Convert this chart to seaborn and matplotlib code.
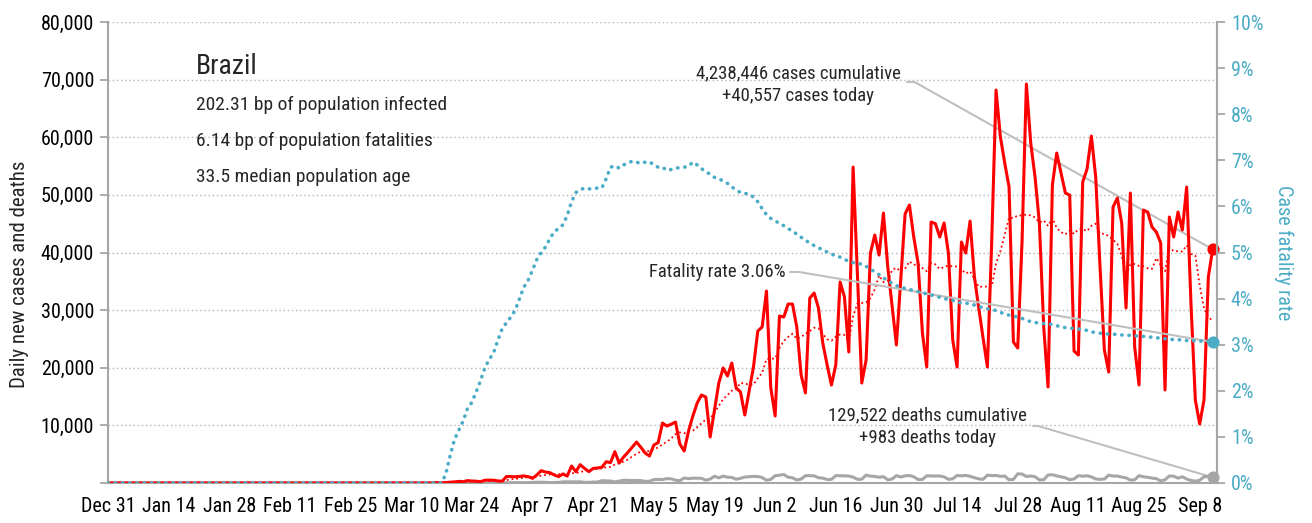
import pandas as pd
import seaborn as sns
import matplotlib.pyplot as plt
import matplotlib.font_manager as fm
from matplotlib.dates import DateFormatter

# ---- data (Brazil) ----
first_day = "2019-12-31"

cases_start = "2020-03-12"
daily_cases = [
    1, 0, 13, 0, 65, 34, 57, 137, 193, 283, 224, 418, 345, 310, 232, 482, 502, 487, 352, 323,
    1138, 1119, 1074, 1146, 1222, 1100, 810, 1400, 2140, 1900,
    1790, 1400, 1100, 1560, 1210, 2950, 1970, 3180, 2540, 1970,
    2540, 2600, 2720, 3700, 3530, 5440, 3470, 4500, 5300, 6200,
    7110, 6200, 5200, 4690, 6600, 7000, 10410, 9890, 10200, 10580,
    6770, 5550, 9000, 11600, 13880, 15270, 14920, 7980, 12700, 17350,
    19950, 18570, 20820, 16480, 15800, 11800, 16000, 20130, 26380, 27070,
    33320, 16480, 11630, 28980, 28800, 31060, 31060, 27070, 18740, 15620,
    32100, 32970, 30370, 24290, 20500, 17000, 20480, 34880, 32280, 22730,
    54830,
    36000, 17350, 21340, 39910, 43030, 39560, 46850, 37480, 30700, 23950,
    35300, 46680, 48240, 42690, 38170, 26030, 20130, 45290, 45000, 42690,
    45120, 39910, 24810, 20130, 41820, 39910, 45460, 35750, 30370, 25160,
    20130, 42000, 68190, 60040, 55530, 51360, 24470, 23430, 42000, 69240,
    59000, 53100, 45120, 27070, 16660, 51710, 57260, 53790, 50320, 49970,
    22900, 22210, 52230, 54490, 60210, 53100, 37480, 23080, 19260, 47890,
    49450, 45120, 30370, 50320, 23600, 17000, 47370, 47020, 44420, 43550,
    41640, 16140, 46160, 42690, 47020, 43900, 51360, 31000, 14400, 10240,
    14400, 35750, 40557,
]

deaths_start = "2020-03-18"
daily_deaths = [
    1, 3, 4, 7, 7, 9, 12,
    13, 18, 15, 22, 22, 23, 42,
    40, 58, 60, 73, 54, 67, 114,
    133, 141, 115, 68, 99, 105, 204,
    204, 188, 217, 206, 115, 113, 166,
    165, 407, 357, 346, 189, 338, 474,
    449, 435, 428, 421, 275, 296, 600,
    615, 610, 751, 730, 496, 396, 881,
    749, 844, 824, 816, 485, 674, 1179,
    888, 1188, 1001, 965, 653, 807, 1039,
    1086, 1156, 1124, 956, 480, 623, 1262,
    1349, 1473, 1005, 904, 525, 679, 1272,
    1274, 1239, 909, 843, 612, 627, 1282,
    1269, 1238, 1206, 1022, 641, 654, 1374,
    1185, 1141, 990, 1109, 552, 692, 1280,
    1038, 1252, 1290, 1091, 602, 620, 1254,
    1223, 1220, 1214, 1071, 631, 733, 1300,
    1233, 1322, 1163, 921, 716, 632, 1367,
    1284, 1311, 1156, 1211, 555, 627, 1595,
    1554, 1129, 1212, 1088, 541, 561, 1394,
    1437, 1226, 1079, 905, 572, 703, 1274,
    1175, 1262, 1060, 709, 620, 684, 1352,
    1212, 1204, 1023, 892, 494, 566, 1271,
    1085, 984, 855, 758, 366, 553, 1215,
    1184, 834, 1090, 682, 447, 310, 476,
    1075, 1136, 983,
]

cfr_start = "2020-03-17"
fatality_pct = [
    0.0, 0.2, 0.6, 0.95, 1.15, 1.35, 1.62, 1.75, 1.98, 2.22,
    2.5, 2.68, 2.82, 3.1, 3.35, 3.48, 3.6, 3.75, 4.0, 4.25,
    4.4, 4.62, 4.85, 5.0, 5.12, 5.3, 5.45, 5.52, 5.6, 5.8,
    6.1, 6.3, 6.36, 6.4, 6.38, 6.38, 6.4, 6.4, 6.6, 6.85,
    6.88, 6.83, 6.9, 6.94, 6.98, 6.96, 6.93, 6.96, 6.97, 6.9,
    6.85, 6.85, 6.78, 6.8, 6.83, 6.84, 6.85, 6.87, 6.96, 6.9,
    6.82, 6.75, 6.7, 6.63, 6.6, 6.55, 6.5, 6.42, 6.36, 6.3,
    6.28, 6.27, 6.2, 6.1, 5.95, 5.82, 5.74, 5.68, 5.64, 5.58,
    5.52, 5.46, 5.4, 5.33, 5.27, 5.2, 5.15, 5.1, 5.06, 5.01,
    4.97, 4.92, 4.9, 4.85, 4.81, 4.78, 4.76, 4.75, 4.7, 4.64,
    4.58, 4.52, 4.45, 4.39, 4.33, 4.28, 4.25, 4.22, 4.2, 4.17,
    4.15, 4.13, 4.1, 4.08, 4.05, 4.03, 4.0, 3.98, 3.96, 3.93,
    3.9, 3.9, 3.89, 3.86, 3.83, 3.8, 3.78, 3.77, 3.74, 3.7,
    3.67, 3.64, 3.62, 3.6, 3.57, 3.53, 3.5, 3.48, 3.47, 3.46,
    3.45, 3.44, 3.41, 3.39, 3.37, 3.36, 3.35, 3.34, 3.33, 3.31,
    3.28, 3.26, 3.25, 3.24, 3.23, 3.23, 3.22, 3.21, 3.21, 3.2,
    3.19, 3.19, 3.18, 3.17, 3.16, 3.15, 3.14, 3.13, 3.12, 3.11,
    3.11, 3.1, 3.09, 3.09, 3.08, 3.08, 3.07, 3.07, 3.06,
]

country = "Brazil"
info_lines = [
    "202.31 bp of population infected",
    "6.14 bp of population fatalities",
    "33.5 median population age",
]
cases_note = "4,238,446 cases cumulative\n+40,557 cases today"
deaths_note = "129,522 deaths cumulative\n+983 deaths today"
rate_note = "Fatality rate 3.06%"

RED = "#ff0000"
BLUE = "#4bacc6"
GREY = "#a6a6a6"
LEADER = "#bfbfbf"

# ---- build the frame ----
cases_idx = pd.date_range(cases_start, periods=len(daily_cases))
dates = pd.date_range(first_day, cases_idx[-1])
df = pd.DataFrame({"date": dates})
df["cases"] = pd.Series(daily_cases, index=cases_idx).reindex(dates, fill_value=0).values
df["avg7"] = df["cases"].rolling(7, min_periods=1).mean()
df["deaths"] = (pd.Series(daily_deaths, index=pd.date_range(deaths_start, periods=len(daily_deaths)))
                .reindex(dates, fill_value=0).values)
df["cfr"] = (pd.Series(fatality_pct, index=pd.date_range(cfr_start, periods=len(fatality_pct)))
             .reindex(dates, fill_value=0).values)
last = df.iloc[-1]

# ---- style ----
sns.set_style("white")
available = {f.name for f in fm.fontManager.ttflist}
narrow = next((f for f in ["Liberation Sans Narrow", "Roboto Condensed", "DejaVu Sans"] if f in available),
              "DejaVu Sans")
plt.rcParams["font.family"] = [narrow, "DejaVu Sans"]
if narrow == "DejaVu Sans":
    plt.rcParams["font.stretch"] = "condensed"

TICK_FS = 14.5
TEXT_FS = 14

W, H = 1312, 523
fig = plt.figure(figsize=(W / 100, H / 100), dpi=100)
ax = fig.add_axes([108 / W, 40 / H, 1109 / W, 461 / H])

sns.lineplot(data=df, x="date", y="deaths", color=GREY, lw=2.2, ax=ax, zorder=2)
sns.lineplot(data=df, x="date", y="avg7", color=RED, lw=1.3, linestyle=(0, (1, 1.6)), ax=ax, zorder=3)
sns.lineplot(data=df, x="date", y="cases", color=RED, lw=2.2, ax=ax, zorder=4)
ax.scatter([last["date"]], [last["cases"]], s=60, color=RED, zorder=6, clip_on=False)
ax.scatter([last["date"]], [last["deaths"]], s=60, color=GREY, zorder=6, clip_on=False)

ax.set_xlim(df["date"].iloc[0], last["date"] + pd.Timedelta(days=1))
ax.set_ylim(0, 80000)
yt = list(range(0, 80001, 10000))
ax.set_yticks(yt)
ax.set_yticklabels([f"{v:,}" if v else "" for v in yt])
ax.set_xticks(pd.date_range(first_day, last["date"], freq="14D"))
ax.xaxis.set_major_formatter(DateFormatter("%b %-d"))
ax.yaxis.grid(True, linestyle=(0, (1, 2)), color="#b4b4b4", lw=1.0)
ax.xaxis.grid(False)
ax.set_axisbelow(True)
ax.set_xlabel("")
ax.set_ylabel("Daily new cases and deaths", fontsize=15)
ax.yaxis.set_label_coords(-0.071, 0.453)
ax.tick_params(axis="both", direction="out", length=6, width=1.3, color=GREY,
               labelsize=TICK_FS, labelcolor="black", pad=4)
for s in ["left", "bottom", "right"]:
    ax.spines[s].set_color(GREY)
    ax.spines[s].set_linewidth(1.5)
ax.spines["top"].set_visible(False)

ax2 = ax.twinx()
sns.lineplot(data=df, x="date", y="cfr", color=BLUE, lw=2.6, linestyle=(0, (0.1, 1.9)),
             dash_capstyle="round", ax=ax2, zorder=3)
ax2.scatter([last["date"]], [last["cfr"]], s=60, color=BLUE, zorder=6, clip_on=False)
ax2.set_ylim(0, 10)
ax2.set_yticks(range(0, 11))
ax2.set_yticklabels([f"{v}%" for v in range(0, 11)])
ax2.set_ylabel("Case fatality rate", fontsize=14.5, color=BLUE, rotation=270, va="center")
ax2.yaxis.set_label_coords(1.0604, 0.5)
ax2.tick_params(axis="y", direction="out", length=6, width=1.3, color=GREY,
                labelsize=TICK_FS, labelcolor=BLUE, pad=4)
for s in ["left", "bottom", "top"]:
    ax2.spines[s].set_visible(False)
ax2.spines["right"].set_color(GREY)
ax2.spines["right"].set_linewidth(1.5)
ax2.grid(False)

# ---- text block ----
fig.text(196 / W, 1 - 66 / H, country, fontsize=20, va="center", ha="left")
for i, line in enumerate(info_lines):
    fig.text(196 / W, 1 - (105 + 36 * i) / H, line, fontsize=TEXT_FS, va="center", ha="left")

# ---- annotations with leader lines ----
fig.text(798 / W, 1 - 84.5 / H, cases_note, fontsize=13.5, ha="center", va="center", linespacing=1.35)
ax.annotate("", xy=(last["date"], last["cases"]), xycoords="data",
            xytext=(907 / W, 1 - 82 / H), textcoords="figure fraction",
            arrowprops=dict(arrowstyle="-", color=LEADER, lw=1.5, shrinkA=0, shrinkB=0,
                            connectionstyle="angle,angleA=0,angleB=-29.3,rad=0"), zorder=1)

fig.text(717 / W, 1 - 272 / H, rate_note, fontsize=13.5, ha="center", va="center")
ax2.annotate("", xy=(last["date"], last["cfr"]), xycoords="data",
             xytext=(790 / W, 1 - 272 / H), textcoords="figure fraction",
             arrowprops=dict(arrowstyle="-", color=LEADER, lw=1.5, shrinkA=0, shrinkB=0,
                             connectionstyle="angle,angleA=0,angleB=-9.6,rad=0"), zorder=1)

fig.text(927 / W, 1 - 426.5 / H, deaths_note, fontsize=13.5, ha="center", va="center", linespacing=1.35)
ax.annotate("", xy=(last["date"], last["deaths"]), xycoords="data",
            xytext=(1033 / W, 1 - 426 / H), textcoords="figure fraction",
            arrowprops=dict(arrowstyle="-", color=LEADER, lw=1.5, shrinkA=0, shrinkB=0,
                            connectionstyle="angle,angleA=0,angleB=-16.4,rad=0"), zorder=1)

fig.savefig("out.png", dpi=100)
